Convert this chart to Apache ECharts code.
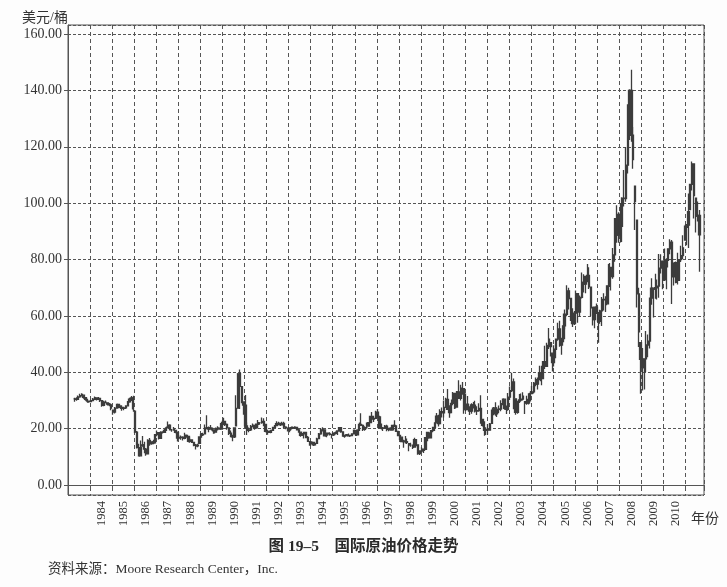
<!DOCTYPE html>
<html><head><meta charset="utf-8">
<script src="https://cdn.jsdelivr.net/npm/echarts@6/dist/echarts.min.js"></script>
<style>html,body{margin:0;padding:0;background:#fdfdfd}#c{width:727px;height:587px}</style>
</head><body><div id="c"></div>
<script>
// Monthly categories: Jan 1983 .. Oct 2011 (data from Apr 1983 to Aug 2011)
const firstYear = 1983, lastYear = 2011, lastMonth = 10;
const months = [];
for (let y = firstYear; y <= lastYear; y++) {
  for (let m = 1; m <= 12; m++) {
    if (y === lastYear && m > lastMonth) break;
    months.push(y + '-' + String(m).padStart(2, '0'));
  }
}
const leadingGap = 3;   // Jan-Mar 1983 no data
const yearLabels = ['1984','1985','1986','1987','1988','1989','1990','1991','1992','1993','1994','1995','1996','1997','1998','1999','2000','2001','2002','2003','2004','2005','2006','2007','2008','2009','2010'];
const yTicks = [0, 20, 40, 60, 80, 100, 120, 140, 160];

// monthly close (USD/bbl), Apr 1983 .. Aug 2011
const closes = [
  30.6,30.4,31.3,31.7,32.2,31.1,30.4,29.8,29.6,
  30.0,30.5,30.9,30.4,30.8,30.0,28.3,29.4,29.4,28.7,28.5,27.3,
  25.9,27.3,28.6,28.1,27.6,27.2,27.4,28.1,29.5,30.5,30.9,27.1,
  18.8,13.3,10.4,13.3,14.3,12.8,11.1,15.9,14.7,15.3,15.0,17.9,
  18.6,16.6,18.8,18.7,19.4,20.3,21.3,19.6,19.6,19.9,18.7,16.7,
  16.9,17.0,16.6,17.6,17.3,15.5,16.0,15.2,14.1,13.9,14.2,17.1,
  18.0,17.8,20.3,20.4,19.9,20.2,19.6,18.5,20.1,20.2,19.9,21.8,
  22.7,21.5,20.3,18.4,17.2,17.1,20.3,27.2,39.5,35.0,29.5,28.4,
  21.0,19.4,19.6,20.8,21.2,20.3,21.6,22.2,22.2,22.6,21.5,19.1,
  18.9,18.7,19.4,20.5,21.1,21.8,21.9,21.4,21.9,20.6,20.3,19.5,
  20.3,20.4,20.3,20.6,19.6,18.9,17.7,18.2,18.7,16.9,15.5,14.2,
  15.2,14.3,14.7,16.4,18.2,19.3,19.6,17.5,18.4,18.2,18.0,17.8,
  18.4,18.5,19.2,20.4,18.9,17.4,17.6,17.8,17.5,17.6,18.2,19.5,
  17.7,19.5,21.5,21.2,19.8,20.4,20.4,22.2,24.4,23.4,23.7,25.9,
  24.2,20.3,20.4,20.2,20.9,19.8,20.1,19.6,21.2,21.0,19.1,17.6,
  17.2,15.4,15.6,15.4,15.2,14.2,14.2,13.4,16.1,14.4,11.2,12.1,
  12.8,12.3,16.8,18.7,16.8,19.3,20.5,22.1,24.5,21.8,26.1,25.6,
  27.6,30.4,26.9,25.7,29.0,32.5,27.4,33.1,30.8,32.7,34.4,26.8,
  28.7,27.4,26.3,28.5,28.4,26.3,26.4,27.2,23.4,21.2,19.4,19.8,
  19.5,21.7,26.3,27.3,25.3,26.9,27.0,28.9,30.5,27.2,26.9,31.2,
  33.5,36.6,31.0,25.8,29.6,30.2,30.5,31.6,29.2,29.1,30.4,32.5,
  33.1,36.2,35.8,37.4,39.9,37.1,43.8,42.1,49.6,51.8,49.1,43.5,
  48.2,51.8,55.4,49.7,52.0,56.5,60.6,68.9,66.2,59.8,57.3,61.0,
  67.9,61.4,66.6,71.9,71.3,74.0,74.4,70.3,62.9,58.7,63.1,61.1,
  58.1,61.8,65.9,65.7,64.0,70.7,78.2,74.0,81.7,94.5,88.7,96.0,
  91.8,101.8,101.6,113.5,127.4,140.0,124.1,115.5,100.6,67.8,54.4,44.6,
  41.7,44.8,49.7,51.1,66.3,69.9,69.5,70.0,70.6,77.0,77.3,79.4,
  72.9,79.7,83.8,86.2,73.9,75.6,78.9,71.9,80.0,81.4,84.1,91.4,
  92.2,97.0,106.7,113.9,102.7,95.4,95.7,88.8
];
// monthly low
const lows = [
  29.6,29.9,30.3,31.0,31.4,30.6,29.9,29.2,29.2,
  29.4,29.8,30.2,30.0,30.2,29.5,27.8,28.0,29.0,28.2,28.0,26.6,
  25.0,25.4,27.1,27.3,27.0,26.4,26.6,27.0,27.9,29.2,29.8,26.0,
  18.5,13.0,10.3,10.4,13.8,11.3,10.4,11.1,14.0,14.3,14.5,14.9,
  17.3,16.2,16.5,18.3,18.6,19.3,20.3,19.4,18.9,19.3,18.4,15.5,
  16.5,16.1,15.8,16.3,16.8,15.2,15.0,14.9,13.8,12.6,13.4,14.8,
  16.8,17.4,18.2,19.8,18.8,19.7,19.0,18.2,18.8,19.4,19.6,19.9,
  21.3,21.0,19.6,17.8,17.0,15.6,16.7,21.0,27.3,27.0,29.0,25.0,
  20.0,17.8,18.8,19.2,20.6,19.6,20.0,20.6,21.4,21.8,20.9,18.8,
  17.9,18.5,18.4,19.2,20.2,21.0,21.2,21.0,21.3,20.3,19.8,19.0,
  18.8,19.7,19.9,19.9,19.5,18.6,17.2,17.5,16.5,16.8,15.3,14.0,
  14.6,13.9,14.1,14.8,16.5,17.9,19.0,17.3,17.0,17.5,17.6,16.5,
  17.4,18.0,17.8,19.0,18.6,17.4,16.8,17.4,17.4,17.1,17.5,18.2,
  17.4,17.8,19.2,21.0,19.2,19.3,20.0,20.9,22.1,23.3,22.4,23.7,
  23.9,20.1,19.7,19.2,20.2,19.1,19.1,19.3,19.3,20.6,18.9,17.6,
  16.0,15.3,13.3,14.8,14.6,12.0,13.6,12.8,13.5,13.8,10.8,10.7,
  11.6,11.4,12.7,15.6,16.6,16.6,18.8,19.2,21.9,20.8,21.7,24.0,
  24.0,27.4,26.8,23.9,25.5,28.3,27.0,27.7,30.8,30.0,32.1,25.3,
  26.3,26.6,24.9,25.3,27.2,25.8,24.9,26.0,21.8,20.8,17.5,17.8,
  17.9,19.4,21.9,24.8,24.6,24.2,25.5,26.2,28.3,26.7,25.2,26.4,
  30.2,33.0,26.9,25.0,25.3,29.1,29.6,30.0,25.2,28.5,28.6,29.7,
  32.2,32.5,35.1,33.9,37.3,35.4,37.8,41.2,41.9,48.3,45.6,40.3,
  42.1,45.0,51.2,49.1,46.2,50.7,55.3,59.9,62.3,58.2,56.1,56.8,
  60.8,57.6,59.7,66.2,68.3,68.1,72.0,69.6,60.0,56.6,55.6,60.7,
  50.5,57.2,56.4,61.9,61.4,64.3,70.3,69.0,73.2,79.2,86.0,86.0,
  86.1,86.2,98.8,100.5,110.5,122.4,121.8,112.2,90.5,63.0,49.0,32.4,
  33.6,33.9,40.1,45.4,48.5,64.0,59.5,66.1,65.8,66.5,75.1,69.5,
  72.4,69.5,77.2,81.9,64.2,70.8,71.6,71.2,72.6,79.1,80.1,86.9,
  85.1,84.1,97.7,104.5,94.6,89.6,93.5,75.7
];
// monthly high
const highs = [
  31.0,31.2,31.8,32.4,32.6,31.9,31.0,30.4,30.0,
  30.3,30.9,31.4,31.0,31.3,30.9,30.2,29.9,30.0,29.2,29.1,28.8,
  26.6,27.7,28.9,28.7,28.2,27.8,27.8,28.3,29.8,31.0,31.6,31.7,
  26.2,19.2,14.7,15.8,17.4,15.4,13.2,16.3,16.7,15.6,16.1,17.9,
  19.4,18.6,19.1,19.1,19.9,20.8,22.6,21.6,19.9,20.6,19.4,19.0,
  17.8,17.6,17.3,18.6,18.0,17.3,16.9,16.2,15.4,14.6,14.7,17.2,
  18.5,18.6,21.5,24.8,20.8,21.3,20.4,19.6,20.4,20.9,20.4,22.5,
  23.9,22.6,21.9,20.5,19.4,17.9,20.4,31.9,39.5,41.0,34.9,29.6,
  32.0,22.2,20.4,21.3,21.9,21.4,21.8,23.1,22.3,24.0,23.7,21.8,
  19.6,19.4,19.5,20.7,21.3,22.7,22.5,21.9,22.5,22.5,20.9,20.2,
  20.3,20.8,20.8,20.9,20.5,19.9,18.8,18.5,18.8,18.9,17.4,15.4,
  15.6,15.3,15.3,16.8,18.5,20.3,20.5,19.8,18.5,18.6,18.8,17.9,
  18.7,19.0,19.3,20.5,20.5,19.0,17.8,18.1,18.3,17.9,18.4,19.6,
  19.3,19.8,22.2,25.5,21.5,20.9,22.2,22.3,24.5,25.9,24.6,26.4,
  27.0,24.6,21.9,20.3,21.3,21.4,20.1,20.5,21.3,23.0,21.4,19.3,
  17.9,17.0,16.1,17.4,16.5,14.7,15.0,14.2,16.8,16.3,14.3,12.4,
  13.4,12.9,16.9,18.8,18.5,19.3,20.7,22.2,25.6,25.0,26.9,27.5,
  30.0,31.0,34.1,28.3,30.4,33.0,32.7,33.4,37.2,35.6,36.6,34.2,
  32.5,31.6,28.0,29.0,29.5,29.9,28.0,29.0,31.9,23.3,22.7,20.5,
  21.7,22.0,26.8,27.7,29.4,27.6,28.2,30.1,30.6,30.6,28.2,32.7,
  35.0,39.9,37.8,30.6,29.9,32.3,32.5,32.9,29.6,31.7,32.6,33.4,
  35.2,36.6,38.2,38.2,42.3,42.3,43.9,49.4,50.5,55.7,50.5,46.8,
  49.6,51.9,57.6,58.3,52.2,60.9,62.3,70.9,70.0,66.4,62.7,61.8,
  69.0,68.1,67.3,75.4,74.8,74.2,78.4,77.3,70.2,63.3,63.4,64.4,
  61.4,62.2,66.7,68.1,67.0,70.9,78.8,77.2,84.1,94.7,99.3,96.8,
  100.1,102.1,111.8,119.9,135.1,140.4,147.3,127.0,106.0,94.0,70.0,50.5,
  48.6,44.9,54.7,53.4,66.4,73.4,69.9,75.0,72.9,82.0,81.9,79.5,
  83.9,80.5,83.9,87.2,86.9,79.0,79.3,82.4,80.1,84.9,88.6,92.1,
  92.6,103.4,106.9,114.8,114.0,101.8,100.6,97.6
];

// build candlestick items [open, close, low, high]; open = previous close kept inside the month's range
const candles = [];
for (let i = 0; i < leadingGap; i++) candles.push('-');
for (let i = 0; i < closes.length; i++) {
  const prev = i > 0 ? closes[i - 1] : closes[i];
  const open = Math.min(Math.max(prev, lows[i]), highs[i]);
  candles.push([open, closes[i], lows[i], highs[i]]);
}
while (candles.length < months.length) candles.push('-');

const serif = '"Liberation Serif", "Times New Roman", "Noto Sans CJK SC", serif';
const ink = '#333';
const gridInk = '#555';
const barInk = '#3c3c3c';

const chart = echarts.init(document.getElementById('c'), null, { renderer: 'canvas' });
chart.setOption({
  backgroundColor: '#fdfdfd',
  animation: false,
  title: [
    { text: '美元/桶', left: 17, top: 6, textStyle: { fontFamily: serif, fontSize: 14, fontWeight: 'normal', color: ink } },
    { text: '图 19–5　国际原油价格走势', left: 'center', top: 534, textStyle: { fontFamily: serif, fontSize: 15.5, fontWeight: 'bold', color: '#2a2a2a' } },
    { text: '年份', left: 686, top: 507, textStyle: { fontFamily: serif, fontSize: 14, fontWeight: 'normal', color: ink } },
    { text: '资料来源：Moore Research Center，Inc.', left: 43, top: 558, textStyle: { fontFamily: serif, fontSize: 13.5, fontWeight: 'normal', color: ink } }
  ],
  grid: { left: 68, right: 23, top: 25, bottom: 92, show: true, borderColor: gridInk, borderWidth: 1, backgroundColor: 'transparent' },
  xAxis: {
    type: 'category',
    data: months,
    boundaryGap: true,
    axisLine: { show: true, lineStyle: { color: gridInk, width: 1 } },
    axisTick: { show: true, length: 5, interval: (i, v) => v.endsWith('-01'), lineStyle: { color: gridInk } },
    splitLine: { show: true, interval: (i, v) => v.endsWith('-01'), lineStyle: { color: gridInk, type: [4, 3], width: 1 } },
    axisLabel: {
      interval: (i, v) => v.endsWith('-07') && yearLabels.includes(v.slice(0, 4)),
      formatter: v => v.slice(0, 4),
      rotate: 90, margin: 6,
      fontFamily: serif, fontSize: 12.5, color: ink
    }
  },
  yAxis: {
    type: 'value',
    min: -3.5, max: 163.2,
    splitNumber: 8, minInterval: 20, maxInterval: 20,
    axisLine: { show: true, lineStyle: { color: gridInk, width: 1 } },
    axisTick: { show: true, length: 4, lineStyle: { color: gridInk } },
    splitLine: { show: true, lineStyle: { color: gridInk, type: [3, 2], width: 1 } },
    axisLabel: {
      showMinLabel: false, showMaxLabel: false, margin: 6,
      formatter: v => yTicks.includes(v) ? v.toFixed(2) : '',
      fontFamily: serif, fontSize: 14, color: ink
    }
  },
  series: [{
    type: 'candlestick',
    data: candles,
    barWidth: 1.8,
    itemStyle: { color: barInk, color0: barInk, borderColor: barInk, borderColor0: barInk, borderWidth: 1.3 }
  }]
});
</script>
</body></html>
